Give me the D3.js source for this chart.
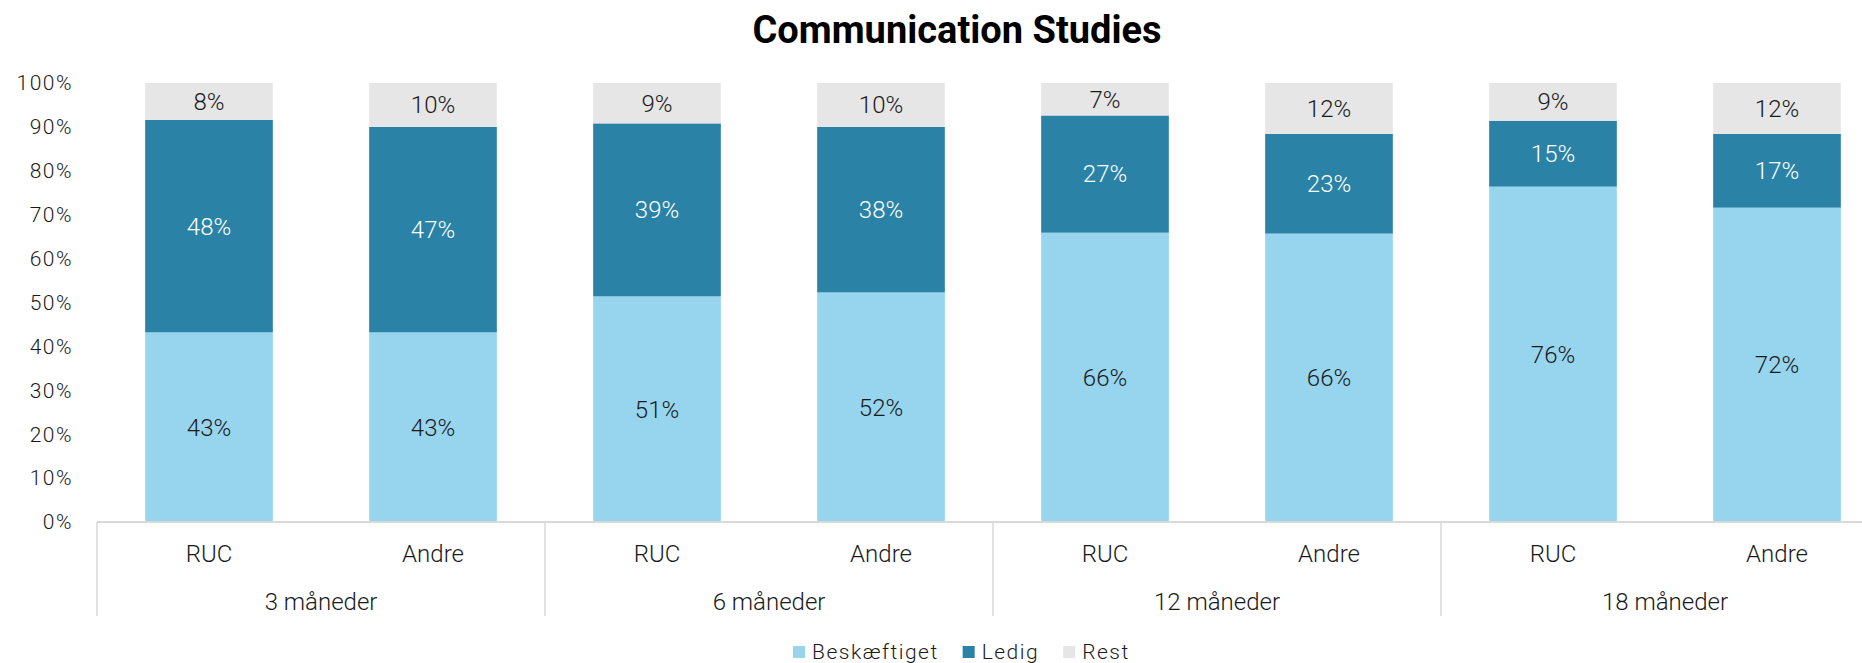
<!DOCTYPE html>
<html>
<head>
<meta charset="utf-8">
<script src="https://cdn.jsdelivr.net/npm/d3@7"></script>
<style>
  body { margin: 0; background: #fff; overflow: hidden; }
  svg text { font-family: Roboto, "Open Sans", sans-serif; }
</style>
</head>
<body>
<div id="chart"></div>
<script>
// data
const groups = ["3 måneder", "6 måneder", "12 måneder", "18 måneder"];
const subCats = ["RUC", "Andre"];
const seriesNames = ["Beskæftiget", "Ledig", "Rest"];
const beskaeftiget = [43.2, 43.2, 51.4, 52.3, 65.9, 65.7, 76.4, 71.6];
const ledig = [48.4, 46.8, 39.4, 37.7, 26.7, 22.7, 15.0, 16.8];
const rest = [8.4, 10.0, 9.2, 10.0, 7.4, 11.6, 8.6, 11.6];
const yTicks = [0, 10, 20, 30, 40, 50, 60, 70, 80, 90, 100];

const colors = ["#97d5ef", "#2a83a6", "#e6e6e6"];
const labelColors = ["#1a1a1a", "#ffffff", "#1a1a1a"];

const width = 1862, height = 663;
// the plot area runs a bit past the right edge, as in the original export
const plotLeft = 97, plotRight = 1889;
const plotTop = 83, plotBottom = 522;

const svg = d3.select("#chart").append("svg")
    .attr("width", width)
    .attr("height", height);

// one row per bar
const rows = [];
groups.forEach((g, gi) => {
    subCats.forEach((c, ci) => {
        const i = gi * subCats.length + ci;
        rows.push({key: g + "|" + c, group: g, cat: c,
            "Beskæftiget": beskaeftiget[i], "Ledig": ledig[i], "Rest": rest[i]});
    });
});

const x = d3.scaleBand()
    .domain(rows.map(d => d.key))
    .range([plotLeft, plotRight])
    .paddingInner(0.43)
    .paddingOuter(0.215);

const xGroup = d3.scaleBand()
    .domain(groups)
    .range([plotLeft, plotRight]);

const y = d3.scaleLinear()
    .domain([0, 100])
    .range([plotBottom, plotTop]);

const stacked = d3.stack().keys(seriesNames)(rows);

// title
svg.append("text")
    .attr("x", 957)
    .attr("y", 43)
    .text("Communication Studies")
    .style("font-size", "38px")
    .style("font-weight", "bold")
    .style("text-anchor", "middle")
    .style("fill", "#000");

// y axis labels
svg.append("g")
    .selectAll("text")
    .data(yTicks)
    .join("text")
    .attr("x", 73)
    .attr("y", d => y(d))
    .attr("dy", "0.35em")
    .text(d => d + "%")
    .style("font-size", "21px")
    .style("font-weight", 300)
    .style("letter-spacing", "1.5px")
    .style("fill", "#1a1a1a")
    .style("text-anchor", "end");

// bars
stacked.forEach((layer, si) => {
    const g = svg.append("g");
    g.selectAll("rect")
        .data(layer)
        .join("rect")
        .attr("x", d => x(d.data.key))
        .attr("y", d => y(d[1]))
        .attr("width", x.bandwidth())
        .attr("height", d => y(d[0]) - y(d[1]))
        .attr("fill", colors[si]);

    g.selectAll("text")
        .data(layer)
        .join("text")
        .attr("x", d => x(d.data.key) + x.bandwidth() / 2)
        .attr("y", d => (y(d[0]) + y(d[1])) / 2)
        .attr("dy", "0.35em")
        .text(d => Math.round(d[1] - d[0]) + "%")
        .style("font-size", "24px")
        .style("font-weight", 300)
        .style("fill", labelColors[si])
        .style("text-anchor", "middle");
});

// category axis
const axisY = y(0);
const axisColor = "#d9d9d9";
svg.append("line")
    .attr("x1", plotLeft).attr("x2", plotRight)
    .attr("y1", axisY).attr("y2", axisY)
    .attr("stroke", axisColor).attr("stroke-width", 2);

const dividers = groups.map(g => xGroup(g)).concat([plotRight]);
svg.append("g")
    .selectAll("line")
    .data(dividers)
    .join("line")
    .attr("x1", d => d).attr("x2", d => d)
    .attr("y1", axisY).attr("y2", 616)
    .attr("stroke", axisColor).attr("stroke-width", 1.5);

svg.append("g")
    .selectAll("text")
    .data(rows)
    .join("text")
    .attr("x", d => x(d.key) + x.bandwidth() / 2)
    .attr("y", 554)
    .attr("dy", "0.35em")
    .text(d => d.cat)
    .style("font-size", "24px")
    .style("font-weight", 300)
    .style("fill", "#1a1a1a")
    .style("text-anchor", "middle");

svg.append("g")
    .selectAll("text")
    .data(groups)
    .join("text")
    .attr("x", d => xGroup(d) + xGroup.bandwidth() / 2)
    .attr("y", 602)
    .attr("dy", "0.35em")
    .text(d => d)
    .style("font-size", "24px")
    .style("font-weight", 300)
    .style("fill", "#1a1a1a")
    .style("text-anchor", "middle");

// legend
const legend = svg.append("g");
let lx = 793;
seriesNames.forEach((name, i) => {
    legend.append("rect")
        .attr("x", lx).attr("y", 646)
        .attr("width", 12).attr("height", 12)
        .attr("fill", colors[i]);
    const t = legend.append("text")
        .attr("x", lx + 19)
        .attr("y", 652)
        .attr("dy", "0.35em")
        .text(name)
        .style("font-size", "21px")
        .style("font-weight", 300)
        .style("letter-spacing", "1.5px")
        .style("fill", "#1a1a1a");
    lx += 19 + t.node().getComputedTextLength() + 24;
});
</script>
</body>
</html>
